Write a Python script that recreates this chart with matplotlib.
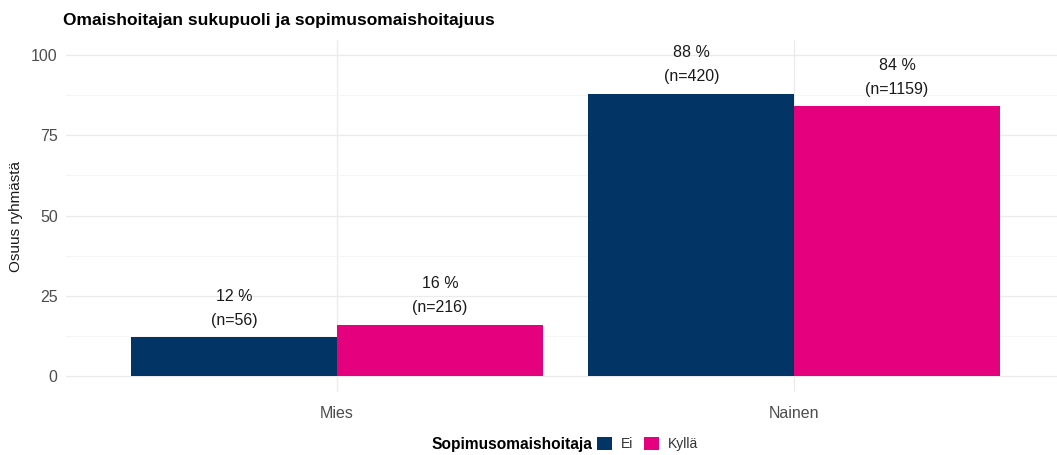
import matplotlib.pyplot as plt
import numpy as np

plt.rcParams['font.family'] = ['Liberation Sans', 'DejaVu Sans']

categories = ['Mies', 'Nainen']
groups = ['Ei', 'Kyllä']
ei_pct = [12, 88]
kylla_pct = [16, 84]
ei_n = [56, 420]
kylla_n = [216, 1159]
colors = ['#023466', '#E5007E']

fig = plt.figure(figsize=(10.57, 4.55), dpi=100)
W, H = 1057, 455
left, right, top, bottom = 66, 1057, 40, 392
ax = fig.add_axes([left / W, 1 - bottom / H, (right - left) / W, (bottom - top) / H])

x = np.arange(len(categories))
bw = 0.45
series = [(ei_pct, ei_n), (kylla_pct, kylla_n)]
for i, (vals, ns) in enumerate(series):
    pos = x + (i - 0.5) * bw
    ax.bar(pos, vals, width=bw, color=colors[i], label=groups[i], zorder=2)
    for p, v, n in zip(pos, vals, ns):
        ax.annotate(f'{v} %\n(n={n})', (p, v), xytext=(0, 7), textcoords='offset points',
                    ha='center', va='bottom', fontsize=11.5, color='#1a1a1a', linespacing=1.75)

ax.set_xlim(-0.593, 1.575)
ax.set_ylim(-5, 104.7)
ax.set_yticks([0, 25, 50, 75, 100])
ax.set_yticks([12.5, 37.5, 62.5, 87.5], minor=True)
ax.set_xticks(x)
ax.set_xticklabels(categories)
ax.grid(True, which='major', color='#EBEBEB', linewidth=1.0, zorder=0)
ax.grid(True, which='minor', axis='y', color='#F4F4F4', linewidth=0.6, zorder=0)
ax.tick_params(which='both', length=0, labelsize=11.5, labelcolor='#4D4D4D', pad=6)
ax.tick_params(axis='x', pad=10)
for s in ax.spines.values():
    s.set_visible(False)
ax.set_ylabel('Osuus ryhmästä', fontsize=11, color='#1a1a1a', labelpad=6)

fig.text(63 / W, 1 - 20 / H, 'Omaishoitajan sukupuoli ja sopimusomaishoitajuus',
         fontsize=12.5, fontweight='bold', va='center', ha='left')

# legend at bottom: title on the left, entries to the right
handles, labels = ax.get_legend_handles_labels()
fig.legend(handles, labels, loc='center left', bbox_to_anchor=(597 / W, 1 - 444 / H), ncol=2,
           frameon=False, fontsize=10, handlelength=1.1, handleheight=1.1,
           handletextpad=0.6, columnspacing=0.8, borderpad=0, borderaxespad=0,
           labelcolor='#333333')
fig.text(592 / W, 1 - 444 / H, 'Sopimusomaishoitaja', fontsize=11.2, fontweight='bold',
         ha='right', va='center')

fig.savefig('out.png', dpi=100)
